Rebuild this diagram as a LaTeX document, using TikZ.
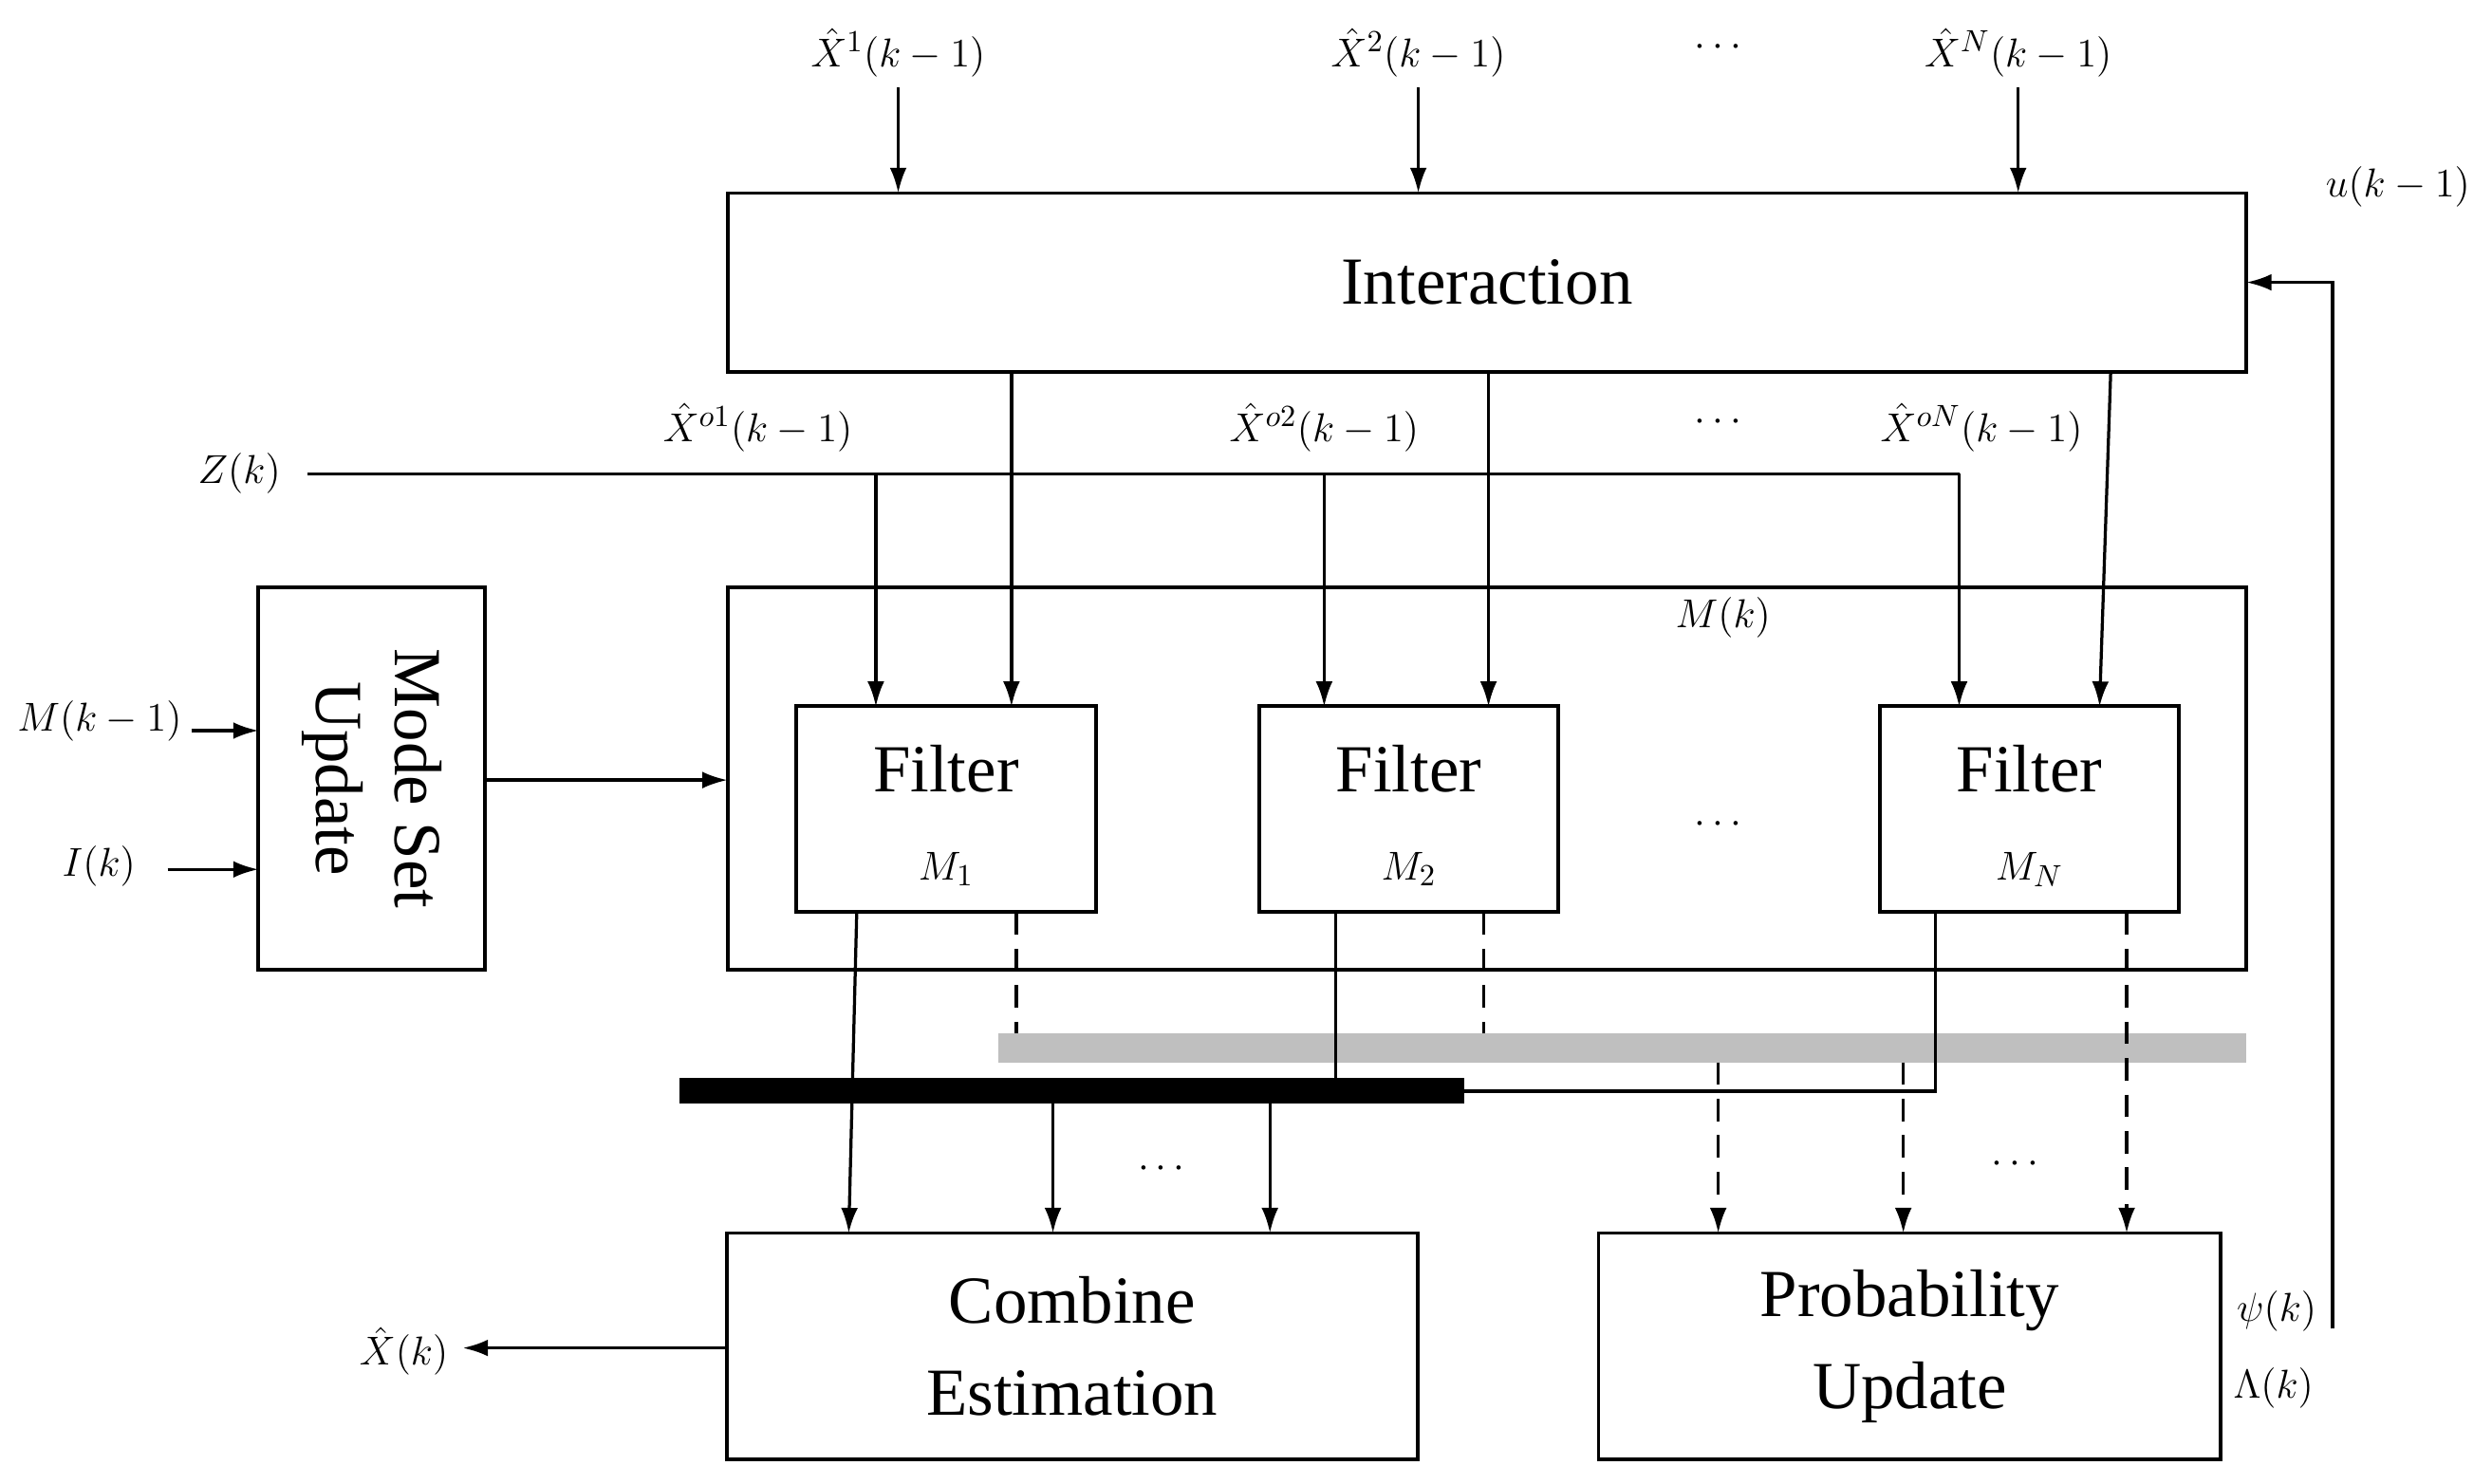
\documentclass[tikz,border=0pt]{standalone}
\usepackage{fontspec}
\setmainfont{Liberation Serif}
\usetikzlibrary{arrows.meta}
\begin{document}
\begin{tikzpicture}[x=0.02cm,y=-0.02cm,
  box/.style={draw,line width=1.3pt},
  big/.style={font=\fontsize{24}{33}\selectfont},
  lab/.style={font=\fontsize{15}{18}\selectfont,inner sep=1pt},
  ln/.style={line width=1.1pt},
  ar/.style={line width=1.1pt,-{Latex[length=9pt,width=6pt]}},
  da/.style={line width=1.1pt,dashed,dash pattern=on 8pt off 5pt}]
\useasboundingbox (0,0) rectangle (1562,930);
% boxes
\node[box,minimum width=952*0.02cm,minimum height=112*0.02cm,big] (inter) at (932,177) {Interaction};
\node[box,minimum width=952*0.02cm,minimum height=240*0.02cm] (big) at (932,488) {};
\node[lab] (mk) at (1080,387) {$M(k)$};
\node[box,minimum width=142*0.02cm,minimum height=240*0.02cm] (msu) at (233,488) {};
\node[big,rotate=-90,align=center,font=\fontsize{24}{28}\selectfont] at (233,488) {Mode Set\\Update};
\node[box,minimum width=188*0.02cm,minimum height=129*0.02cm] (f1) at (593,507) {};
\node[box,minimum width=187*0.02cm,minimum height=129*0.02cm] (f2) at (883,507) {};
\node[box,minimum width=187*0.02cm,minimum height=129*0.02cm] (f3) at (1272,507) {};
\node[big] at (593,482) {Filter}; \node[lab] at (593,545) {$M_1$};
\node[big] at (883,482) {Filter}; \node[lab] at (883,545) {$M_2$};
\node[big] at (1272,482) {Filter}; \node[lab] at (1272,545) {$M_N$};
\node[lab] at (1077,517) {$\cdots$};
\node[box,minimum width=433*0.02cm,minimum height=142*0.02cm,big,align=center] (comb) at (672,844) {Combine\\Estimation};
\node[box,minimum width=390*0.02cm,minimum height=142*0.02cm,big,align=center] (prob) at (1197,844) {Probability\\Update};
% bars
\fill[gray!50] (626,648) rectangle (1408,666);
\fill[black] (426,676) rectangle (918,692);
% top inputs
\node[lab] (x1) at (563,33) {$\hat X^{1}(k-1)$};
\node[lab] (x2) at (889,33) {$\hat X^{2}(k-1)$};
\node[lab] at (1077,30) {$\cdots$};
\node[lab] (xn) at (1265,33) {$\hat X^{N}(k-1)$};
\draw[ar] (563,55) -- (563,121);
\draw[ar] (889,55) -- (889,121);
\draw[ar] (1265,55) -- (1265,121);
\node[lab] (u) at (1503,117) {$u(k-1)$};
\coordinate (fb) at (1462,833);
\draw[ar] (fb) -- (1462,177) -- (1408,177);
\node[lab] at (1427,822) {$\psi(k)$};
\node[lab] at (1425,870) {$\Lambda(k)$};
% interaction outputs
\draw[ar] (634,233) -- (634,443);
\draw[ar] (933,233) -- (933,443);
\draw[ar] (1323,233) -- (1316,443);
% Z(k)
\node[lab] (z) at (150,297) {$Z(k)$};
\draw[ln] (193,297) -- (1228,297);
\draw[ar] (549,297) -- (549,443);
\draw[ar] (830,297) -- (830,443);
\draw[ar] (1228,297) -- (1228,443);
\node[lab] at (475,268) {$\hat X^{o1}(k-1)$};
\node[lab] at (830,268) {$\hat X^{o2}(k-1)$};
\node[lab] at (1077,265) {$\cdots$};
\node[lab] at (1242,268) {$\hat X^{oN}(k-1)$};
% mode set
\node[lab,anchor=east] at (116,452) {$M(k-1)$};
\draw[ar] (120,458) -- (162,458);
\node[lab] at (62,543) {$I(k)$};
\draw[ar] (105,545) -- (162,545);
\draw[ar] (304,489) -- (456,489);
% filter outputs
\draw[ar] (537,572) -- (532,773);
\draw[ln] (837,572) -- (837,676);
\draw[ln] (1213,572) -- (1213,684) -- (918,684);
\draw[da] (637,572) -- (637,648);
\draw[da] (930,572) -- (930,648);
\draw[da,-{Latex[length=9pt,width=6pt]}] (1333,572) -- (1333,773);
\draw[ar] (660,692) -- (660,773);
\draw[ar] (796,692) -- (796,773);
\node[lab] at (728,733) {$\cdots$};
\draw[da,-{Latex[length=9pt,width=6pt]}] (1077,666) -- (1077,773);
\draw[da,-{Latex[length=9pt,width=6pt]}] (1193,666) -- (1193,773);
\node[lab] at (1263,730) {$\cdots$};
% output
\draw[ar] (456,845) -- (290,845);
\node[lab,anchor=east] at (283,847) {$\hat X(k)$};
\end{tikzpicture}
\end{document}
